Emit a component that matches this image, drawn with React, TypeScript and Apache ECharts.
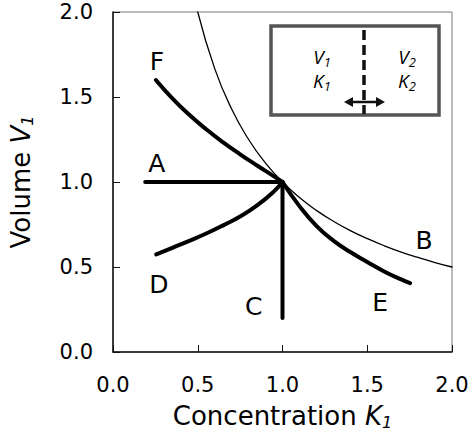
import React, { useEffect, useRef } from "react";
import * as echarts from "echarts";

const xTicks = [0, 0.5, 1.0, 1.5, 2.0];
const yTicks = [0, 0.5, 1.0, 1.5, 2.0];

// curve A: horizontal
const seriesA: number[][] = [[0.19, 1.0], [1.0, 1.0]];
// curve B: thin reference curve
const seriesB: number[][] = [
  [0.5, 2.0], [0.6, 1.667], [0.7, 1.429], [0.8, 1.25], [0.9, 1.111], [1.0, 1.0],
  [1.1, 0.909], [1.2, 0.833], [1.3, 0.769], [1.4, 0.714], [1.5, 0.667],
  [1.6, 0.625], [1.7, 0.588], [1.8, 0.556], [1.9, 0.526], [2.0, 0.5],
];
// curve C: vertical
const seriesC: number[][] = [[1.0, 1.0], [1.0, 0.2]];
// curve D: rising
const seriesD: number[][] = [
  [0.255, 0.574], [0.35, 0.613], [0.45, 0.654], [0.55, 0.697], [0.65, 0.745],
  [0.75, 0.797], [0.85, 0.862], [0.95, 0.945], [1.0, 1.0],
];
// curve E: steep decline
const seriesE: number[][] = [
  [1.0, 1.0], [1.1, 0.858], [1.2, 0.742], [1.3, 0.655], [1.4, 0.588],
  [1.5, 0.53], [1.6, 0.474], [1.7, 0.427], [1.753, 0.405],
];
// curve F: shallow decline
const seriesF: number[][] = [
  [0.253, 1.6], [0.35, 1.492], [0.45, 1.395], [0.55, 1.31], [0.65, 1.233],
  [0.75, 1.163], [0.85, 1.097], [0.95, 1.033], [1.0, 1.0],
];

const curveLabels = ["A", "B", "C", "D", "E", "F"];
const labelPositions: number[][] = [
  [0.259, 1.106], [1.835, 0.653], [0.83, 0.27], [0.27, 0.4], [1.576, 0.294], [0.259, 1.706],
];

export default function App() {
  const ref = useRef<HTMLDivElement>(null);
  useEffect(() => {
    document.body.style.margin = "0";
    if (!ref.current) return;
    const chart = echarts.init(ref.current, null, { renderer: "svg" });
    const font = "DejaVu Sans";
    const lineSeries = (name: string, data: number[][], width: number, smooth: boolean) => ({
      name,
      type: "line",
      data,
      smooth: smooth ? 0.5 : false,
      showSymbol: false,
      symbol: "none",
      lineStyle: { color: "#000", width, cap: "round", join: "round" },
      z: 3,
    });
    const insetX = 271, insetY = 26, insetW = 168, insetH = 89;
    const italic = { fontFamily: "Open Sans", fontStyle: "italic", fill: "#000" };
    const insetText = (main: string, sub: string, x: number, y: number) => ({
      type: "text",
      x,
      y,
      style: {
        text: `{m|${main}}{s|${sub}}`,
        align: "center",
        verticalAlign: "middle",
        rich: {
          m: { ...italic, fontSize: 19 },
          s: { ...italic, fontSize: 13, verticalAlign: "bottom", padding: [9, 0, 0, 0] },
        },
      },
      z: 20,
    });
    chart.setOption({
      animation: false,
      grid: {
        left: 112, top: 12, width: 340, height: 340,
        show: true, borderColor: "#777", borderWidth: 1, backgroundColor: "transparent",
      },
      xAxis: {
        type: "value",
        min: xTicks[0],
        max: xTicks[xTicks.length - 1],
        interval: 0.5,
        name: "Concentration {i|K}{s|1}",
        nameLocation: "middle",
        nameGap: 50,
        nameTextStyle: {
          fontFamily: font, fontSize: 26, color: "#000",
          rich: {
            i: { fontFamily: font, fontSize: 26, fontStyle: "italic", color: "#000" },
            s: { fontFamily: font, fontSize: 16, fontStyle: "italic", color: "#000", padding: [12, 0, 0, 0] },
          },
        },
        axisLine: { show: true, lineStyle: { color: "#111", width: 1.5 } },
        axisTick: { show: true, inside: true, length: 7, lineStyle: { color: "#111", width: 1 } },
        splitLine: { show: false },
        axisLabel: {
          fontFamily: font, fontSize: 21, color: "#000", margin: 22,
          formatter: (v: number) => v.toFixed(1),
        },
      },
      yAxis: {
        type: "value",
        min: yTicks[0],
        max: yTicks[yTicks.length - 1],
        interval: 0.5,
        name: "Volume {i|V}{s|1}",
        nameLocation: "middle",
        nameGap: 78,
        nameRotate: 90,
        nameTextStyle: {
          fontFamily: font, fontSize: 26, color: "#000",
          rich: {
            i: { fontFamily: font, fontSize: 26, fontStyle: "italic", color: "#000" },
            s: { fontFamily: font, fontSize: 16, fontStyle: "italic", color: "#000", padding: [12, 0, 0, 0] },
          },
        },
        axisLine: { show: true, lineStyle: { color: "#111", width: 1.5 } },
        axisTick: { show: true, inside: true, length: 7, lineStyle: { color: "#111", width: 1 } },
        splitLine: { show: false },
        axisLabel: {
          fontFamily: font, fontSize: 21, color: "#000", margin: 20,
          formatter: (v: number) => v.toFixed(1),
        },
      },
      series: [
        lineSeries("A", seriesA, 4, false),
        lineSeries("B", seriesB, 1.3, true),
        lineSeries("C", seriesC, 4, false),
        lineSeries("D", seriesD, 4, true),
        lineSeries("E", seriesE, 4, true),
        lineSeries("F", seriesF, 4, true),
        {
          name: "labels",
          type: "scatter",
          symbolSize: 0,
          itemStyle: { color: "#000", opacity: 1 },
          data: labelPositions.map((p, i) => ({ value: p, name: curveLabels[i] })),
          label: {
            show: true,
            position: "inside",
            formatter: (p: any) => p.name,
            fontFamily: font,
            fontSize: 25,
            color: "#000",
            textBorderWidth: 0,
            textBorderColor: "transparent",
            opacity: 1,
          },
          emphasis: { disabled: true },
          z: 5,
        },
      ],
      graphic: [
        {
          type: "rect",
          shape: { x: insetX, y: insetY, width: insetW, height: insetH },
          style: { fill: "#fff", stroke: "#555", lineWidth: 3.5 },
          z: 10,
        },
        {
          type: "line",
          shape: { x1: 364, y1: 30, x2: 364, y2: 114 },
          style: { stroke: "#111", lineWidth: 3.5, lineDash: [10, 5] },
          z: 11,
        },
        {
          type: "line",
          shape: { x1: 350, y1: 102, x2: 379, y2: 102 },
          style: { stroke: "#111", lineWidth: 2.5 },
          z: 12,
        },
        {
          type: "polygon",
          shape: { points: [[344, 102], [353, 97], [353, 107]] },
          style: { fill: "#111" },
          z: 12,
        },
        {
          type: "polygon",
          shape: { points: [[385, 102], [376, 97], [376, 107]] },
          style: { fill: "#111" },
          z: 12,
        },
        insetText("V", "1", 322, 57),
        insetText("K", "1", 322, 81),
        insetText("V", "2", 407, 57),
        insetText("K", "2", 407, 81),
      ],
    });
    return () => chart.dispose();
  }, []);
  return <div ref={ref} style={{ position: "absolute", left: 0, top: 0, width: 473, height: 436 }} />;
}
